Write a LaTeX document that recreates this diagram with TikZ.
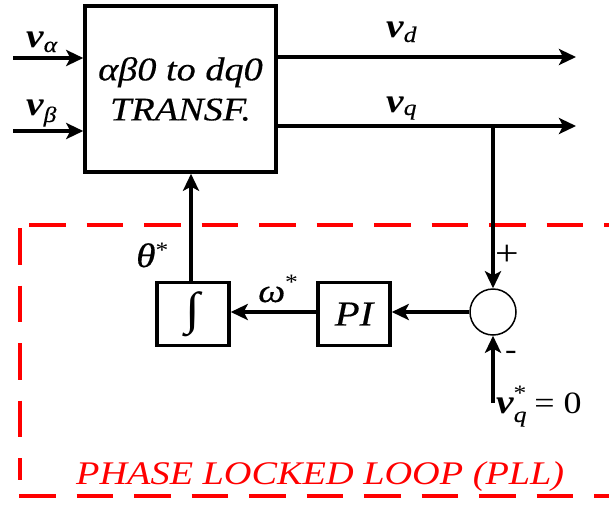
\documentclass[tikz,border=0pt]{standalone}
\usepackage{fontspec}
\setmainfont{Liberation Serif}[FakeStretch=1.16]
\newfontfamily\heavyfont{Liberation Serif}[FakeStretch=1.16, FakeBold=0.4]
\usetikzlibrary{arrows.meta}
\tikzset{
  blk/.style={draw, line width=3.5pt, inner sep=0pt},
  conn/.style={line width=3.2pt, -{Stealth[length=17pt,width=16pt,inset=4pt]}},
  lbl/.style={inner sep=0pt, anchor=base west},
  plldash/.style={draw=red, line width=4pt, dash pattern=on 36.5pt off 21pt},
}
\newcommand{\bigv}{{\fontsize{34}{34}\selectfont\bfseries\itshape v}}
\newcommand{\lowsub}[2]{\raisebox{-#1}{\fontsize{22}{22}\selectfont\heavyfont\itshape #2}}
\newcommand{\highstar}[1]{\raisebox{#1}{\fontsize{22}{22}\selectfont *}}
\begin{document}
\begin{tikzpicture}[x=1pt,y=-1pt]
\useasboundingbox (0,0) rectangle (609,504);
% PLL frame
\draw[plldash] (29,225) -- (612,225);
\draw[plldash] (19.5,228) -- (19.5,480);
\draw[plldash] (19,495.5) -- (612,495.5);
\node[lbl, text=red, font=\fontsize{33}{33}\selectfont\itshape] (pll) at (76,484) {PHASE LOCKED LOOP (PLL)};
% transformation block
\node[blk, minimum width=191pt, minimum height=166pt, align=center,
      font=\fontsize{33}{40}\selectfont\heavyfont\itshape] (tr) at (180.5,89) {αβ0 to dq0\\TRANSF.};
% inputs
\coordinate (ina) at (13,58);
\coordinate (inb) at (13,131);
\draw[conn] (ina) -- (ina -| tr.west);
\draw[conn] (inb) -- (inb -| tr.west);
\node[lbl] (la) at (26,47) {\bigv\lowsub{5pt}{α}};
\node[lbl] (lb) at (26,115) {\bigv\lowsub{7pt}{β}};
% outputs
\coordinate (outd) at (576,57);
\coordinate (outq) at (576,126);
\draw[conn] (tr.east |- outd) -- (outd);
\draw[conn] (tr.east |- outq) -- (outq);
\node[lbl] (ld) at (386,37) {\bigv\lowsub{5pt}{d}};
\node[lbl] (lq) at (386,112) {\bigv\lowsub{3pt}{q}};
% PLL blocks
\coordinate (br) at (493,126);
\node[draw, circle, line width=1.5pt, minimum size=46pt, inner sep=0pt] (sum) at (493,312) {};
\node[blk, minimum width=72pt, minimum height=63pt,
      font=\fontsize{35}{35}\selectfont\heavyfont\itshape] (pi) at (354,314) {PI};
\node[blk, minimum width=72pt, minimum height=63pt] (int) at (193,314)
      {\fontsize{46}{46}\selectfont ∫};
\coordinate (ref) at (493,403);
\draw[conn] (br) -- (sum.north);
\draw[conn] (ref) -- (sum.south);
\draw[conn] (sum.west) -- (sum.west -| pi.east);
\draw[conn] (pi.west |- sum.west) -- (int.east |- sum.west);
\draw[conn] (int.north -| 191,0) -- (tr.south -| 191,0);
% labels
\node[lbl] (lth) at (136,267) {{\fontsize{34}{34}\selectfont\heavyfont\itshape θ}\highstar{10pt}};
\node[lbl] (lom) at (258,302) {{\fontsize{33}{33}\selectfont\heavyfont\itshape ω}\highstar{13pt}};
\node[inner sep=0pt, font=\fontsize{36}{36}\selectfont] (plus) at (507,255) {+};
\node[inner sep=0pt, font=\fontsize{30}{30}\selectfont] (minus) at (511,355) {-};
\node[lbl] (lref) at (496,413) {\bigv\rlap{\lowsub{9pt}{q}}\highstar{13pt}\hspace{8pt}{\fontsize{31}{31}\selectfont = 0}};
\end{tikzpicture}
\end{document}
